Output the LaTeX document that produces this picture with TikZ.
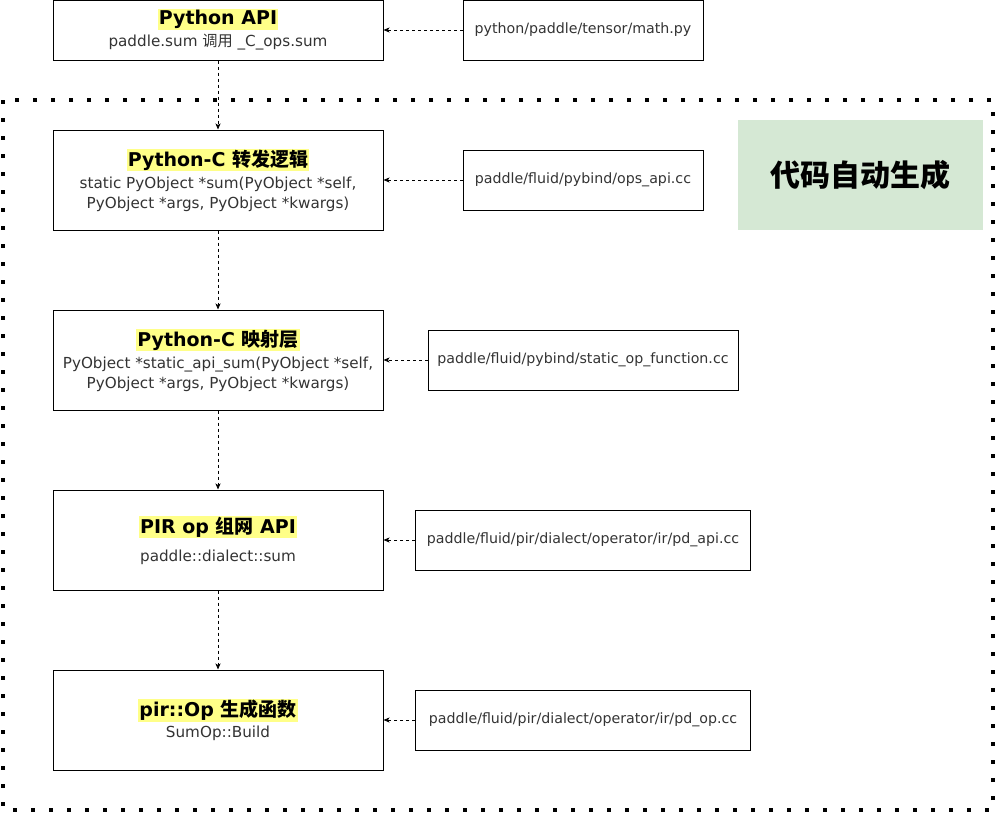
\documentclass[tikz,border=0pt]{standalone}
\usepackage{fontspec}
\setmainfont{DejaVu Sans}
\newfontfamily\cjk{Noto Sans CJK SC}
\usetikzlibrary{arrows.meta}
\definecolor{hl}{HTML}{FFFF88}
\definecolor{gbg}{HTML}{D5E8D4}
\definecolor{txt}{HTML}{333333}
\newcommand{\ttl}[1]{{\fontsize{19}{22}\selectfont\bfseries\color{black}\setlength{\fboxsep}{1pt}\colorbox{hl}{#1}}}
\begin{document}
\begin{tikzpicture}[x=1pt,y=-1pt,
  mainbox/.style={draw=black, line width=1pt, minimum width=330pt, minimum height=100pt, align=center, text=txt, font=\fontsize{15.2}{20}\selectfont, inner sep=0pt},
  filebox/.style={draw=black, line width=1pt, minimum height=60pt, align=center, text=txt, font=\fontsize{14.2}{17}\selectfont, inner sep=0pt},
  conn/.style={line width=0.8pt, dash pattern=on 3pt off 3pt, -{Stealth[length=6pt,width=5pt,inset=1.5pt]}}
]
\useasboundingbox (0,0) rectangle (996,814);
% dotted frame
\draw[line width=4pt, dash pattern=on 4pt off 14pt] (3,100) rectangle (993,810);
% green label
\node[fill=gbg, minimum width=245pt, minimum height=110pt, inner sep=0pt, font=\fontsize{30}{34}\selectfont\bfseries\cjk] (auto) at (860.5,175) {代码自动生成};
% main boxes
\node[mainbox, minimum height=60pt] (api) at (218,30) {\ttl{Python API}\\[2pt]paddle.sum {\cjk 调用} \_C\_ops.sum};
\node[mainbox] (pyc) at (218,180) {\ttl{Python-C {\cjk 转发逻辑}}\\[2pt]static PyObject *sum(PyObject *self,\\PyObject *args, PyObject *kwargs)};
\node[mainbox] (map) at (218,360) {\ttl{Python-C {\cjk 映射层}}\\[2pt]PyObject *static\_api\_sum(PyObject *self,\\PyObject *args, PyObject *kwargs)};
\node[mainbox] (pir) at (218,540) {\ttl{PIR op {\cjk 组网} API}\\[8pt]paddle::dialect::sum};
\node[mainbox] (op) at (218,720) {\ttl{pir::Op {\cjk 生成函数}}\\[1pt]SumOp::Build};
% file boxes
\node[filebox, minimum width=240pt] (f1) at (583,30) {python/paddle/tensor/math.py};
\node[filebox, minimum width=240pt] (f2) at (583,180) {paddle/fluid/pybind/ops\_api.cc};
\node[filebox, minimum width=310pt] (f3) at (583,360) {paddle/fluid/pybind/static\_op\_function.cc};
\node[filebox, minimum width=335pt] (f4) at (583,540) {paddle/fluid/pir/dialect/operator/ir/pd\_api.cc};
\node[filebox, minimum width=335pt] (f5) at (583,720) {paddle/fluid/pir/dialect/operator/ir/pd\_op.cc};
% connectors
\draw[conn] (api.south) -- (pyc.north);
\draw[conn] (pyc.south) -- (map.north);
\draw[conn] (map.south) -- (pir.north);
\draw[conn] (pir.south) -- (op.north);
\draw[conn] (f1.west) -- (api.east);
\draw[conn] (f2.west) -- (pyc.east);
\draw[conn] (f3.west) -- (map.east);
\draw[conn] (f4.west) -- (pir.east);
\draw[conn] (f5.west) -- (op.east);
\end{tikzpicture}
\end{document}
